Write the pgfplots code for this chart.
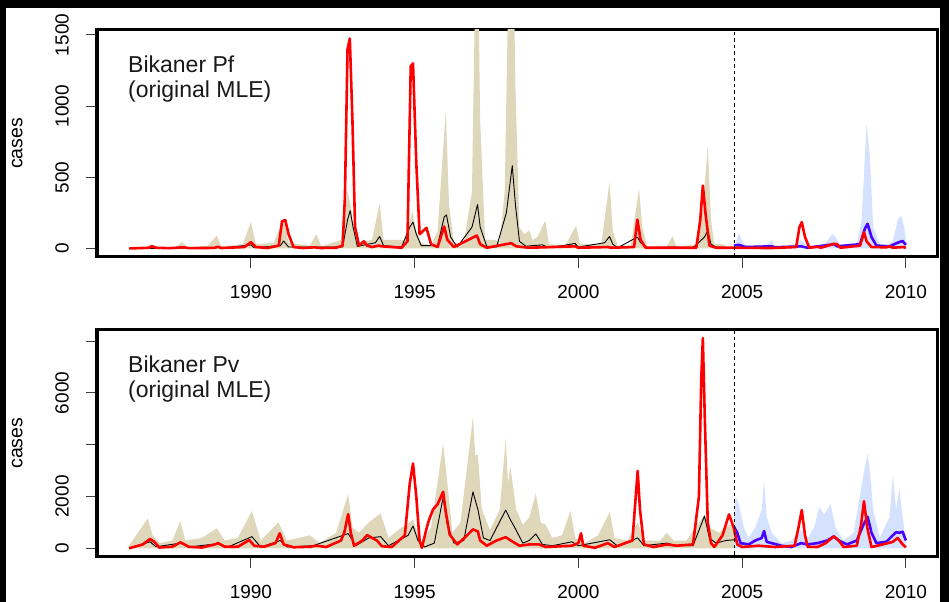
\documentclass[border=0pt]{standalone}
\usepackage{pgfplots}
\pgfplotsset{compat=1.18}
\usepackage{fontspec}
\setmainfont{Liberation Sans}
\definecolor{tanband}{RGB}{222,215,186}
\definecolor{blueband}{RGB}{212,226,255}
\definecolor{rline}{RGB}{255,0,0}
\definecolor{bline}{RGB}{72,0,255}
\pgfplotsset{
  common/.style={
    scale only axis, width=840bp, height=227bp,
    xmin=1985.3, xmax=2010.95,
    axis line style={line width=3bp, line join=miter},
    tick style={line width=1bp, color=black!75},
    tick align=outside, major tick length=11bp,
    xtick pos=left, ytick pos=left,
    xtick={1990,1995,2000,2005,2010},
    xticklabels={1990,1995,2000,2005,2010},
    /pgf/number format/assume math mode=true,
    tick label style={font=\fontsize{19bp}{22bp}\selectfont, inner sep=0pt},
    x tick label style={anchor=north, yshift=-17bp},
    y tick label style={xshift=-17bp, rotate=90, anchor=south},
    ylabel={cases},
    ylabel style={at={(axis description cs:-0.0885,0.5)}, anchor=south, inner sep=0pt, font=\fontsize{19.5bp}{22bp}\selectfont},
    clip=true,
  },
  red/.style={rline, line width=2.6bp, line join=round},
  blu/.style={bline, line width=2.6bp, line join=round},
  blk/.style={black, line width=0.9bp, line join=round},
}
\begin{document}
\begin{tikzpicture}
\fill[black] (0,0) rectangle (949bp,602bp);
\fill[white] (6bp,0) rectangle (940bp,594bp);
% ---------------- Top panel: Pf ----------------
\begin{axis}[common, at={(97bp,345bp)}, anchor=south west,
  ymin=-60, ymax=1535, ytick={0,500,1000,1500}, yticklabels={0,500,1000,1500}]
\addplot[fill=tanband, draw=none] coordinates {
(1986.29,0) (1986.8,10) (1986.95,30) (1987.1,5) (1987.7,10) (1987.9,45) (1988.05,10)
(1988.7,20) (1988.95,90) (1989.1,15) (1989.75,30) (1990.0,185) (1990.15,30)
(1990.7,40) (1991.0,210) (1991.15,40) (1991.8,20) (1992.0,100) (1992.15,15)
(1992.75,60) (1992.95,400) (1993.05,300) (1993.2,40) (1993.7,60) (1993.93,318) (1994.05,60)
(1994.7,60) (1994.93,260) (1995.05,120) (1995.2,40) (1995.5,20) (1995.7,120) (1995.95,968) (1996.05,300) (1996.2,40)
(1996.5,40) (1996.75,400) (1996.9,2600) (1997.0,900) (1997.15,60) (1997.4,60) (1997.6,50)
(1997.75,400) (1997.95,3000) (1998.08,1100) (1998.2,150) (1998.35,100) (1998.5,126) (1998.6,60) (1998.75,80) (1998.99,196) (1999.1,30)
(1999.6,20) (1999.93,160) (2000.05,30) (2000.7,30) (2000.95,465) (2001.05,120) (2001.2,20)
(2001.6,20) (2001.85,420) (2001.95,150) (2002.1,15) (2002.7,15) (2002.87,85) (2003.0,10)
(2003.6,30) (2003.8,300) (2003.95,715) (2004.05,200) (2004.15,30) (2004.4,30) (2004.55,10) (2004.75,10)
} \closedcycle;
\addplot[fill=blueband, draw=none] coordinates {
(2004.75,10) (2004.9,105) (2005.05,30) (2005.3,10) (2005.75,25) (2005.9,60) (2006.0,20)
(2006.5,10) (2006.8,60) (2006.95,20) (2007.5,20) (2007.75,105) (2007.85,80) (2008.0,20)
(2008.5,30) (2008.65,200) (2008.8,874) (2008.9,650) (2009.0,150) (2009.2,30) (2009.45,25)
(2009.6,50) (2009.75,200) (2009.85,231) (2009.95,150) (2010.0,60)
} \closedcycle;
\addplot[blk] coordinates {
(1986.29,0) (1988.9,2) (1989.0,10) (1989.1,2) (1990.0,25) (1990.1,5) (1990.9,20) (1991.0,52) (1991.15,10)
(1992.0,10) (1992.8,10) (1992.95,200) (1993.03,266) (1993.12,150) (1993.25,15) (1993.8,40) (1993.93,84) (1994.05,20)
(1994.6,10) (1994.85,150) (1994.95,185) (1995.05,100) (1995.2,20) (1995.7,20) (1995.9,220) (1995.97,236) (1996.1,80)
(1996.3,10) (1996.75,150) (1996.92,308) (1997.0,150) (1997.2,15) (1997.5,10) (1997.8,250) (1997.98,582) (1998.08,300)
(1998.2,50) (1998.4,15) (1998.6,20) (1998.9,25) (1999.1,5) (1999.9,35) (2000.0,10) (2000.8,40) (2000.95,84)
(2001.05,30) (2001.2,5) (2001.8,80) (2001.9,40) (2002.1,5) (2002.9,10) (2003.5,5) (2003.85,80) (2003.95,126)
(2004.05,30) (2004.2,10) (2004.75,5)
};
\addplot[blu] coordinates {
(2004.75,20) (2004.9,25) (2005.1,10) (2005.9,15) (2006.0,8) (2006.8,15) (2007.0,5) (2007.8,30) (2007.9,15)
(2008.6,30) (2008.75,140) (2008.83,173) (2008.95,80) (2009.1,20) (2009.5,15) (2009.8,45) (2009.9,52) (2010.0,25)
};
\addplot[red] coordinates {
(1986.29,0) (1986.9,5) (1986.98,16) (1987.1,5) (1987.5,2) (1987.95,8) (1988.1,2) (1988.9,4) (1988.98,12) (1989.1,3)
(1989.8,10) (1990.0,44) (1990.15,10) (1990.5,3) (1990.85,20) (1990.95,190) (1991.05,200) (1991.15,100) (1991.3,10)
(1991.6,3) (1991.95,8) (1992.1,3) (1992.6,5) (1992.8,20) (1992.87,360) (1992.95,1400) (1993.02,1475) (1993.1,900)
(1993.18,150) (1993.3,20) (1993.45,50) (1993.55,20) (1993.7,10) (1993.9,20) (1994.0,15) (1994.6,5) (1994.78,50)
(1994.88,1280) (1994.95,1300) (1995.05,600) (1995.15,100) (1995.36,145) (1995.5,30) (1995.7,10) (1995.9,154)
(1996.0,60) (1996.2,10) (1996.9,91) (1997.0,30) (1997.2,5) (1997.95,37) (1998.1,15) (1998.5,5) (1999.9,15)
(2000.0,5) (2000.9,10) (2001.0,5) (2001.7,10) (2001.8,203) (2001.9,60) (2002.05,5) (2003.6,5) (2003.72,200)
(2003.8,442) (2003.88,250) (2004.0,20) (2004.2,5) (2004.75,5) (2005.9,3) (2006.65,10) (2006.75,150) (2006.82,185)
(2006.92,80) (2007.05,5) (2007.3,12) (2007.4,5) (2007.7,25) (2007.8,33) (2007.9,30) (2008.0,5) (2008.6,20)
(2008.72,115) (2008.8,50) (2008.95,10) (2009.4,8) (2009.5,15) (2009.6,5) (2009.9,10) (2010.0,5)
};
\addplot[black, line width=0.8bp, dash pattern=on 3.5bp off 3bp] coordinates {(2004.75,-100) (2004.75,1600)};
\node[anchor=north west, align=left, inner sep=0pt, text=black!90, font=\fontsize{23bp}{25bp}\selectfont]
  at ([xshift=31bp,yshift=-26bp]rel axis cs:0,1) {Bikaner Pf\\(original MLE)};
\end{axis}
% ---------------- Bottom panel: Pv ----------------
\begin{axis}[common, at={(97bp,45.3bp)}, anchor=south west,
  ymin=-324, ymax=8439, ytick={0,2000,4000,6000,8000}, yticklabels={0,2000,,6000,}]
\addplot[fill=tanband, draw=none] coordinates {
(1986.28,100) (1986.85,1155) (1987.0,500) (1987.2,200) (1987.6,300) (1987.84,1050) (1988.0,300) (1988.5,400)
(1988.96,770) (1989.2,300) (1989.6,400) (1990.03,1437) (1990.3,300) (1990.84,1000) (1991.1,300) (1991.8,500)
(1992.1,200) (1992.6,600) (1992.97,2090) (1993.1,800) (1993.3,600) (1993.6,1000) (1993.96,1350) (1994.2,400)
(1994.6,800) (1994.95,1100) (1995.2,200) (1995.5,800) (1995.87,4045) (1996.0,2500) (1996.15,600) (1996.4,1000)
(1996.78,5070) (1996.85,3600) (1996.93,3600) (1997.05,1500) (1997.3,700) (1997.6,1500) (1997.78,4240) (1997.85,2500)
(1997.92,3150) (1998.1,1500) (1998.3,900) (1998.5,1200) (1998.7,2120) (1998.85,1000) (1999.0,900) (1999.2,400)
(1999.5,500) (1999.76,1450) (1999.9,400) (2000.2,200) (2000.6,500) (2000.96,1400) (2001.1,400) (2001.5,300)
(2001.81,1000) (2002.0,300) (2002.5,300) (2002.7,600) (2002.9,300) (2003.3,300) (2003.85,1300) (2004.0,800)
(2004.3,600) (2004.6,900) (2004.75,900)
} \closedcycle;
\addplot[fill=blueband, draw=none] coordinates {
(2004.75,900) (2004.8,1990) (2004.9,1700) (2005.05,800) (2005.2,400) (2005.4,800) (2005.6,1500) (2005.67,2630)
(2005.75,1200) (2005.9,600) (2006.2,200) (2006.5,300) (2006.8,700) (2007.0,400) (2007.2,800) (2007.35,1600)
(2007.5,1300) (2007.7,1700) (2007.85,800) (2008.1,300) (2008.4,600) (2008.7,2800) (2008.83,3660) (2008.9,3000)
(2009.0,1500) (2009.2,400) (2009.5,1200) (2009.6,2825) (2009.7,1500) (2009.8,2300) (2009.9,1200) (2010.0,300)
} \closedcycle;
\addplot[blk] coordinates {
(1986.28,0) (1986.92,250) (1987.1,60) (1987.85,200) (1988.1,50) (1989.0,180) (1989.3,50) (1990.03,450) (1990.3,50)
(1990.9,300) (1991.1,50) (1991.9,100) (1992.97,570) (1993.2,100) (1993.6,400) (1993.96,450) (1994.2,100) (1994.8,500)
(1994.95,860) (1995.1,300) (1995.3,50) (1995.6,200) (1995.87,1970) (1996.0,900) (1996.2,200) (1996.5,300)
(1996.78,2180) (1996.93,1500) (1997.1,400) (1997.3,300) (1997.78,1475) (1997.95,1040) (1998.1,700) (1998.3,200)
(1998.5,300) (1998.7,555) (1998.9,150) (1999.2,100) (1999.8,250) (2000.0,100) (2000.96,330) (2001.2,80)
(2001.81,400) (2002.0,100) (2002.7,200) (2003.0,100) (2003.5,100) (2003.85,1245) (2004.0,400) (2004.2,200)
(2004.5,300) (2004.75,330)
};
\addplot[blu] coordinates {
(2004.75,830) (2004.85,600) (2004.95,200) (2005.2,150) (2005.4,300) (2005.6,400) (2005.67,667) (2005.75,250)
(2005.9,200) (2006.2,100) (2006.5,50) (2006.8,200) (2007.0,150) (2007.3,200) (2007.6,300) (2007.8,460) (2007.95,300)
(2008.2,150) (2008.5,300) (2008.7,900) (2008.83,1220) (2008.95,600) (2009.1,200) (2009.4,250) (2009.6,500)
(2009.7,620) (2009.8,600) (2009.9,640) (2010.0,300)
};
\addplot[red] coordinates {
(1986.28,0) (1986.7,150) (1986.92,360) (1987.05,250) (1987.2,30) (1987.6,60) (1987.85,230) (1988.1,60) (1988.5,30)
(1988.9,150) (1989.0,200) (1989.2,60) (1989.6,60) (1989.95,320) (1990.1,100) (1990.4,60) (1990.75,200) (1990.88,577)
(1991.0,150) (1991.3,40) (1991.8,60) (1992.0,100) (1992.3,50) (1992.75,300) (1992.85,600) (1992.97,1320) (1993.05,600)
(1993.15,100) (1993.4,300) (1993.55,510) (1993.7,400) (1993.85,300) (1994.0,80) (1994.3,50) (1994.7,500) (1994.85,2500)
(1994.95,3275) (1995.05,2000) (1995.15,300) (1995.22,20) (1995.35,700) (1995.42,1025) (1995.56,1500) (1995.7,1700)
(1995.87,2180) (1995.95,1400) (1996.07,530) (1996.3,150) (1996.6,500) (1996.78,730) (1996.93,650) (1997.0,300)
(1997.2,100) (1997.5,300) (1997.78,430) (1998.0,250) (1998.2,100) (1998.5,150) (1998.8,150) (1999.0,50) (1999.8,100)
(2000.0,200) (2000.08,580) (2000.15,100) (2000.5,20) (2000.9,200) (2001.1,50) (2001.65,300) (2001.75,2000)
(2001.81,2990) (2001.88,1500) (2002.0,150) (2002.3,50) (2002.7,150) (2003.0,100) (2003.5,150) (2003.68,2000)
(2003.75,6500) (2003.8,8115) (2003.86,5000) (2003.95,1000) (2004.05,200) (2004.15,50) (2004.4,500) (2004.6,1310)
(2004.75,770) (2004.85,150) (2005.0,50) (2005.5,100) (2006.0,50) (2006.6,100) (2006.72,800) (2006.82,1475)
(2006.92,500) (2007.0,60) (2007.3,50) (2007.55,200) (2007.8,460) (2007.95,300) (2008.1,50) (2008.5,100) (2008.63,900)
(2008.72,1820) (2008.82,800) (2008.95,50) (2009.3,150) (2009.6,250) (2009.75,400) (2009.9,150) (2010.0,40)
};
\addplot[black, line width=0.8bp, dash pattern=on 3.5bp off 3bp] coordinates {(2004.75,-500) (2004.75,9000)};
\node[anchor=north west, align=left, inner sep=0pt, text=black!90, font=\fontsize{23bp}{25bp}\selectfont]
  at ([xshift=31bp,yshift=-26bp]rel axis cs:0,1) {Bikaner Pv\\(original MLE)};
\end{axis}
\pgfresetboundingbox
\useasboundingbox (0,0) rectangle (949bp,602bp);
\end{tikzpicture}
\end{document}
